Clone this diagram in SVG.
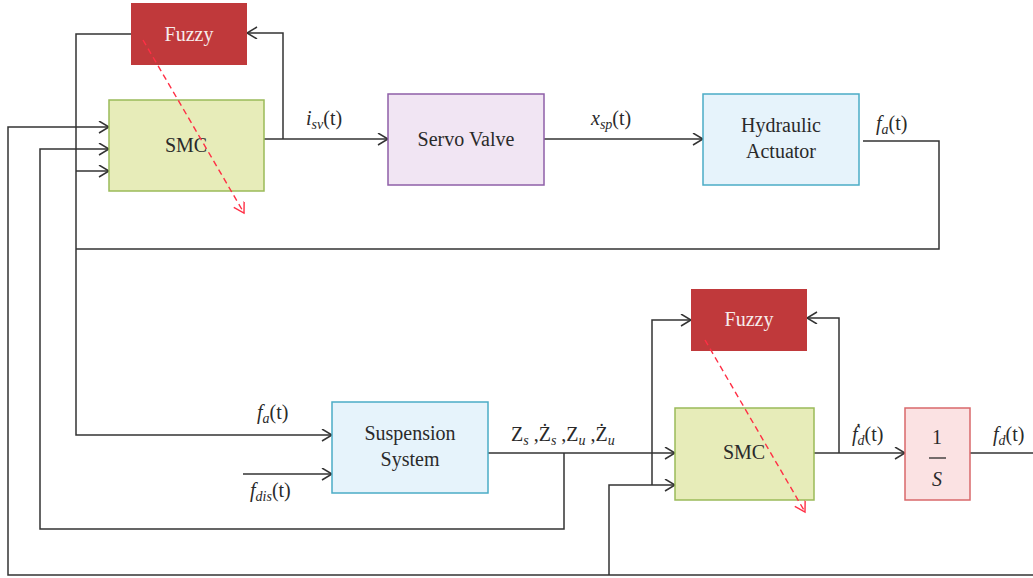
<svg xmlns="http://www.w3.org/2000/svg" width="1033" height="578" viewBox="0 0 1033 578">
<style>
.w{fill:none;stroke:#333;stroke-width:1.5}
.d{fill:none;stroke:#ff2f45;stroke-width:1.4;stroke-dasharray:6,4}
text{font-family:"Liberation Serif","DejaVu Serif","Times New Roman",serif}
.t{font-size:20px;fill:#2a2a2a;text-anchor:middle}
.l{font-size:20px;fill:#2a2a2a}
.fz{fill:#c0393b}
.fzt{font-size:20px;fill:#f6ecec;text-anchor:middle}
.smc{fill:#e7ecb9;stroke:#9bbb59;stroke-width:1.5}
.sv{fill:#f1e5f3;stroke:#8e5fa8;stroke-width:1.5}
.ha{fill:#e6f3fb;stroke:#4bacc6;stroke-width:1.5}
.is{fill:#fbe2e3;stroke:#d9686b;stroke-width:1.5}
.sub{font-size:14px;font-style:italic}
</style>
<defs>
<marker id="a" markerWidth="14" markerHeight="14" refX="11" refY="6" orient="auto" markerUnits="userSpaceOnUse">
<path d="M1,0 L11,6 L1,12" fill="none" stroke="#333" stroke-width="1.5"/>
</marker>
<marker id="r" markerWidth="14" markerHeight="14" refX="11" refY="6" orient="auto" markerUnits="userSpaceOnUse">
<path d="M1,0 L11,6 L1,12" fill="none" stroke="#ff2f45" stroke-width="1.4"/>
</marker>
</defs>
<g id="connectors">
<polyline class="w" points="131,34 76,34 76,435 332,435" marker-end="url(#a)"/>
<line class="w" x1="76" y1="171" x2="109" y2="171" marker-end="url(#a)"/>
<polyline class="w" points="863,141 939,141 939,249 76,249"/>
<polyline class="w" points="1033,575 8,575 8,127 109,127" marker-end="url(#a)"/>
<polyline class="w" points="564,453 564,529 40,529 40,149 109,149" marker-end="url(#a)"/>
<line class="w" x1="264" y1="139" x2="388" y2="139" marker-end="url(#a)"/>
<polyline class="w" points="283,139 283,33 247,33" marker-end="url(#a)"/>
<line class="w" x1="544" y1="139" x2="703" y2="139" marker-end="url(#a)"/>
<line class="w" x1="243" y1="474" x2="332" y2="474" marker-end="url(#a)"/>
<line class="w" x1="488" y1="453" x2="675" y2="453" marker-end="url(#a)"/>
<polyline class="w" points="609,575 609,485 675,485" marker-end="url(#a)"/>
<polyline class="w" points="652,485 652,320 691,320" marker-end="url(#a)"/>
<line class="w" x1="814" y1="453" x2="905" y2="453" marker-end="url(#a)"/>
<polyline class="w" points="839,453 839,318 807,318" marker-end="url(#a)"/>
<line class="w" x1="970" y1="453" x2="1033" y2="453"/>
</g>
<g id="fuzzy1"><rect class="fz" x="131" y="3" width="116" height="62"/><text class="fzt" x="189" y="41">Fuzzy</text></g>
<g id="smc1"><rect class="smc" x="109" y="100" width="155" height="91"/><text class="t" x="186" y="152">SMC</text></g>
<g id="servo"><rect class="sv" x="388" y="94" width="156" height="91"/><text class="t" x="466" y="146">Servo Valve</text></g>
<g id="actuator"><rect class="ha" x="703" y="94" width="156" height="91"/><text class="t" x="781" y="132">Hydraulic</text><text class="t" x="781" y="158">Actuator</text></g>
<g id="suspension"><rect class="ha" x="332" y="402" width="156" height="91"/><text class="t" x="410" y="440">Suspension</text><text class="t" x="410" y="466">System</text></g>
<g id="fuzzy2"><rect class="fz" x="691" y="289" width="116" height="62"/><text class="fzt" x="749" y="326">Fuzzy</text></g>
<g id="smc2"><rect class="smc" x="675" y="408" width="139" height="92"/><text class="t" x="744" y="459">SMC</text></g>
<g id="integrator"><rect class="is" x="905" y="408" width="65" height="92"/><text class="t" x="937" y="444">1</text><line x1="929" y1="458" x2="946" y2="458" stroke="#2a2a2a" stroke-width="1.3"/><text class="t" x="937" y="486" font-style="italic">S</text></g>
<g id="fuzzy-links">
<line class="d" x1="143" y1="40" x2="244" y2="213" marker-end="url(#r)"/>
<line class="d" x1="705" y1="340" x2="805" y2="512" marker-end="url(#r)"/>
</g>
<g id="labels">
<text class="l" x="306" y="125"><tspan font-style="italic">i</tspan><tspan class="sub" dy="4">sv</tspan><tspan dy="-4">(t)</tspan></text>
<text class="l" x="591" y="125"><tspan font-style="italic">x</tspan><tspan class="sub" dy="4">sp</tspan><tspan dy="-4">(t)</tspan></text>
<text class="l" x="876" y="130"><tspan font-style="italic">f</tspan><tspan class="sub" dy="4">a</tspan><tspan dy="-4">(t)</tspan></text>
<text class="l" x="257" y="419"><tspan font-style="italic">f</tspan><tspan class="sub" dy="4">a</tspan><tspan dy="-4">(t)</tspan></text>
<text class="l" x="250" y="497"><tspan font-style="italic">f</tspan><tspan class="sub" dy="4">dis</tspan><tspan dy="-4">(t)</tspan></text>
<text class="l" x="511" y="441"><tspan>Z</tspan><tspan class="sub" dy="4">s</tspan><tspan dy="-4"> ,Ż</tspan><tspan class="sub" dy="4">s</tspan><tspan dy="-4"> ,Z</tspan><tspan class="sub" dy="4">u</tspan><tspan dy="-4"> ,Ż</tspan><tspan class="sub" dy="4">u</tspan></text>
<text class="l" x="852" y="441"><tspan font-style="italic">ḟ</tspan><tspan class="sub" dy="4">d</tspan><tspan dy="-4">(t)</tspan></text>
<text class="l" x="993" y="441"><tspan font-style="italic">f</tspan><tspan class="sub" dy="4">d</tspan><tspan dy="-4">(t)</tspan></text>
</g>
</svg>
